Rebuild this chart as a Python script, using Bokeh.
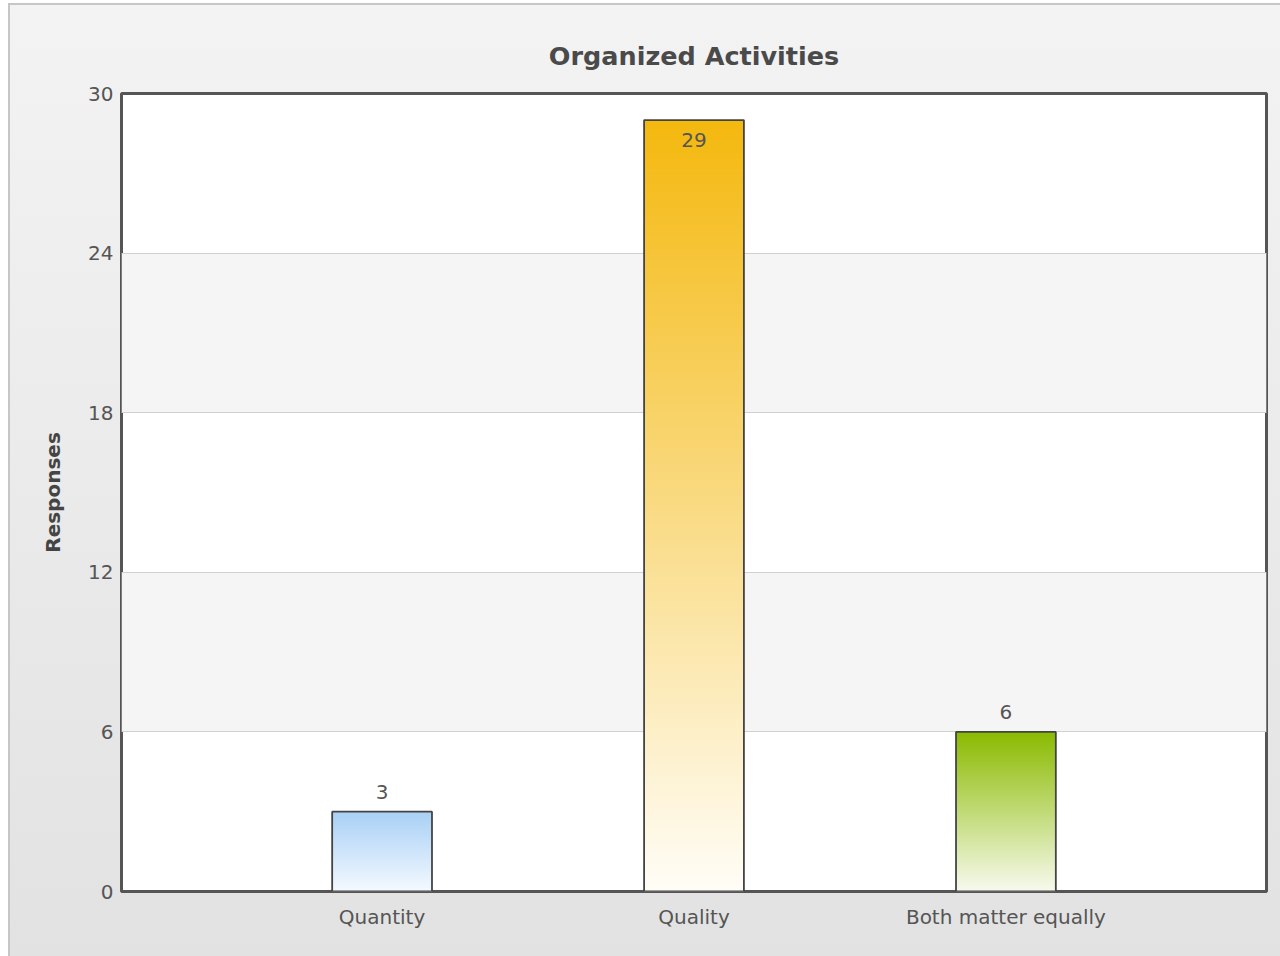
from bokeh.plotting import figure
from bokeh.models import ColumnDataSource, FactorRange, Range1d, FixedTicker
from bokeh.core.properties import value
from bokeh.embed import file_html
from bokeh.resources import INLINE

# ---- data ----
categories = ["Quantity", "Quality", "Both matter equally"]
responses = [3, 29, 6]
y_ticks = [0, 6, 12, 18, 24, 30]
bar_top_colors = ["#a9d0f5", "#f4b80e", "#8aba00"]
bar_bottom_colors = ["#f4f9ff", "#fffdf7", "#f7faee"]
title_text = "Organized Activities"
y_label = "Responses"

FONT = "DejaVu Sans"


def hex2rgb(h):
    h = h.lstrip("#")
    return tuple(int(h[i:i + 2], 16) for i in (0, 2, 4))


def mix(c1, c2, t):
    a, b = hex2rgb(c1), hex2rgb(c2)
    return "#%02x%02x%02x" % tuple(round(a[i] + (b[i] - a[i]) * t) for i in range(3))


# gradient: for each bar, layered slices from a rising bottom up to the bar top
# (drawn bottom-first, so each later slice paints over the previous one; no seams)
N = 160
gx, gb, gt, gc = [], [], [], []
for cat, v, ctop, cbot in zip(categories, responses, bar_top_colors, bar_bottom_colors):
    for j in range(N):
        gx.append(cat)
        gb.append(v * j / N)
        gt.append(v)
        gc.append(mix(cbot, ctop, (j + 0.5) / N))
grad_src = ColumnDataSource(dict(x=gx, bottom=gb, top=gt, color=gc))

ymax = y_ticks[-1]
label_src = ColumnDataSource(dict(
    x=categories,
    y=responses,
    text=[str(v) for v in responses],
    yoff=[20 if v / ymax > 0.9 else -20 for v in responses],
))

p = figure(
    x_range=FactorRange(factors=categories, range_padding=0.2236),
    y_range=Range1d(0, ymax),
    width=1272, height=953,
    output_backend="svg", toolbar_location=None,
    min_border_left=113, min_border_right=14,
    min_border_top=90, min_border_bottom=65,
)

p.styles = {
    "margin-left": "8px",
    "margin-top": "3px",
    "background": "linear-gradient(to bottom, #f3f3f3, #e2e2e2)",
    "box-shadow": "inset 2px 2px 0 #c6c6c6",
}
p.border_fill_color = None
p.background_fill_color = "#ffffff"
p.outline_line_color = "#555555"
p.outline_line_width = 3

# title
p.title.text = title_text
p.title.align = "center"
p.title.text_font = FONT
p.title.text_font_size = "25.5px"
p.title.text_font_style = "bold"
p.title.text_color = "#4a4a4a"
p.title.standoff = 46

# grids
p.xgrid.grid_line_color = None
p.ygrid.grid_line_color = "#d0d0d0"
p.ygrid.grid_line_width = 1
p.ygrid.band_fill_color = "#f5f5f5"
p.ygrid.band_fill_alpha = 1.0

# axes
p.yaxis.ticker = FixedTicker(ticks=y_ticks)
for ax in (p.xaxis[0], p.yaxis[0]):
    ax.axis_line_color = None
    ax.major_tick_line_color = None
    ax.minor_tick_line_color = None
    ax.major_tick_out = 0
    ax.major_tick_in = 0
    ax.major_label_text_font = FONT
    ax.major_label_text_font_size = "20px"
    ax.major_label_text_color = "#555555"
p.yaxis.major_label_standoff = 8
p.xaxis.major_label_standoff = 13
p.yaxis.axis_label = y_label
p.yaxis.axis_label_text_font = FONT
p.yaxis.axis_label_text_font_size = "20px"
p.yaxis.axis_label_text_font_style = "bold"
p.yaxis.axis_label_text_color = "#444444"
p.yaxis.axis_label_standoff = 20

# bars: gradient layers + outline
p.vbar(x="x", bottom="bottom", top="top", width=0.32, source=grad_src,
       fill_color="color", line_color=None)
p.vbar(x=categories, top=responses, width=0.32, fill_color=None,
       line_color="#444444", line_width=1.8)

# value labels
p.text(x="x", y="y", text="text", y_offset="yoff", source=label_src,
       text_align="center", text_baseline="middle",
       text_font=value(FONT), text_font_size="20px", text_color="#555555")

open("out.html", "w").write(file_html(p, INLINE))
